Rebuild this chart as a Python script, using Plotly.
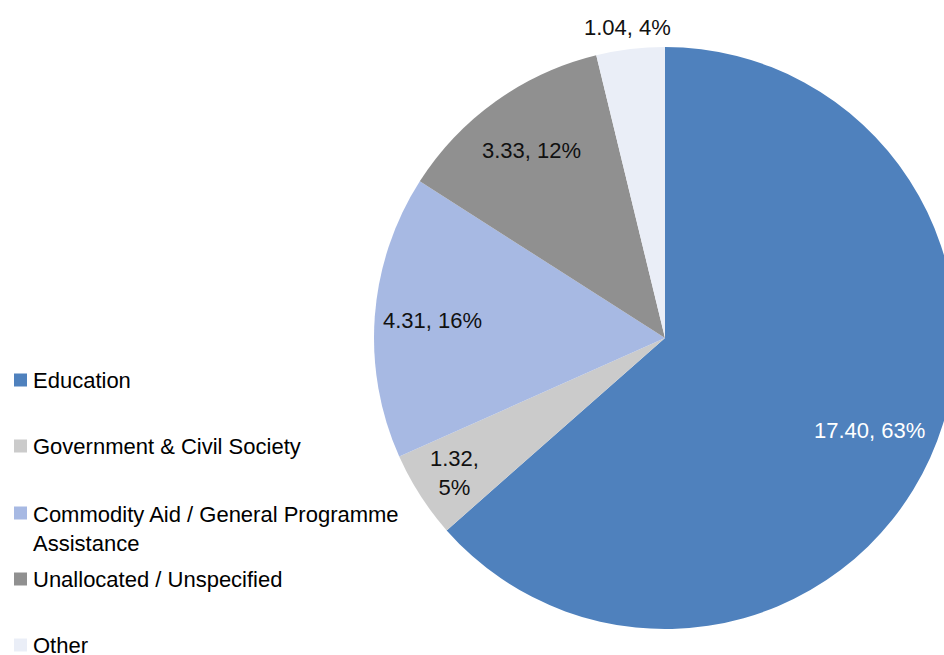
import math
import plotly.graph_objects as go

# Data
categories = [
    "Education",
    "Government & Civil Society",
    "Commodity Aid / General Programme Assistance",
    "Unallocated / Unspecified",
    "Other",
]
values = [17.40, 1.32, 4.31, 3.33, 1.04]
percent_labels = [63, 5, 16, 12, 4]

# Styles
colors = ["#4F81BD", "#CBCBCB", "#A7B9E3", "#909090", "#EAEEF7"]
label_colors = ["#FFFFFF", "#111111", "#111111", "#111111", "#111111"]
label_radius = [0.77, 0.86, 0.80, 0.79, 1.075]  # fraction of pie radius
label_breaks = [False, True, False, False, False]
legend_names = [
    "Education",
    "Government & Civil Society",
    "Commodity Aid / General Programme<br>Assistance",
    "Unallocated / Unspecified",
    "Other",
]
legend_swatch_y = [380, 446, 513, 579, 645]
legend_text_y = [380, 446, 528.5, 579, 645]

FONT = "Liberation Sans, Arial, sans-serif"
FS = 22

# Canvas (slightly wider than the window so the pie runs off the right edge)
W, H = 970, 655
CX, CY, R = 665, 338, 291


def px(x):
    return x / W


def py(y):
    return 1 - y / H


fig = go.Figure(
    go.Pie(
        labels=categories,
        values=values,
        sort=False,
        direction="clockwise",
        rotation=0,
        marker=dict(colors=colors, line=dict(width=0)),
        textinfo="none",
        hoverinfo="label+value+percent",
        showlegend=False,
        domain=dict(x=[px(CX - R), px(CX + R)], y=[py(CY + R), py(CY - R)]),
    )
)

annotations = []
shapes = []

# Slice labels placed at each slice's mid-angle
total = sum(values)
cum = 0.0
for i, v in enumerate(values):
    theta = 2 * math.pi * (cum + v / 2) / total
    cum += v
    k = label_radius[i]
    x = CX + k * R * math.sin(theta)
    y = CY - k * R * math.cos(theta)
    sep = ",<br>" if label_breaks[i] else ", "
    text = f"{v:.2f}{sep}{percent_labels[i]}%"
    annotations.append(
        dict(
            x=px(x), y=py(y), xref="paper", yref="paper",
            text=text, showarrow=False, xanchor="center", yanchor="middle",
            align="center",
            font=dict(family=FONT, size=FS, color=label_colors[i]),
        )
    )

# Legend drawn on the left
for i, name in enumerate(legend_names):
    sy = legend_swatch_y[i]
    shapes.append(
        dict(
            type="rect", xref="paper", yref="paper",
            x0=px(14), x1=px(27), y0=py(sy + 6.5), y1=py(sy - 6.5),
            fillcolor=colors[i], line=dict(width=0),
        )
    )
    annotations.append(
        dict(
            x=px(31), y=py(legend_text_y[i]), xref="paper", yref="paper",
            text=name, showarrow=False, xanchor="left", yanchor="middle",
            align="left",
            font=dict(family=FONT, size=FS, color="#000000"),
        )
    )

fig.update_layout(
    width=W,
    height=H,
    margin=dict(l=0, r=0, t=0, b=0),
    paper_bgcolor="#FFFFFF",
    plot_bgcolor="#FFFFFF",
    annotations=annotations,
    shapes=shapes,
    showlegend=False,
)

fig.write_html(
    "out.html",
    post_script=(
        "document.documentElement.style.overflow='hidden';"
        "document.body.style.overflow='hidden';"
        "document.body.style.margin='0';"
    ),
)
